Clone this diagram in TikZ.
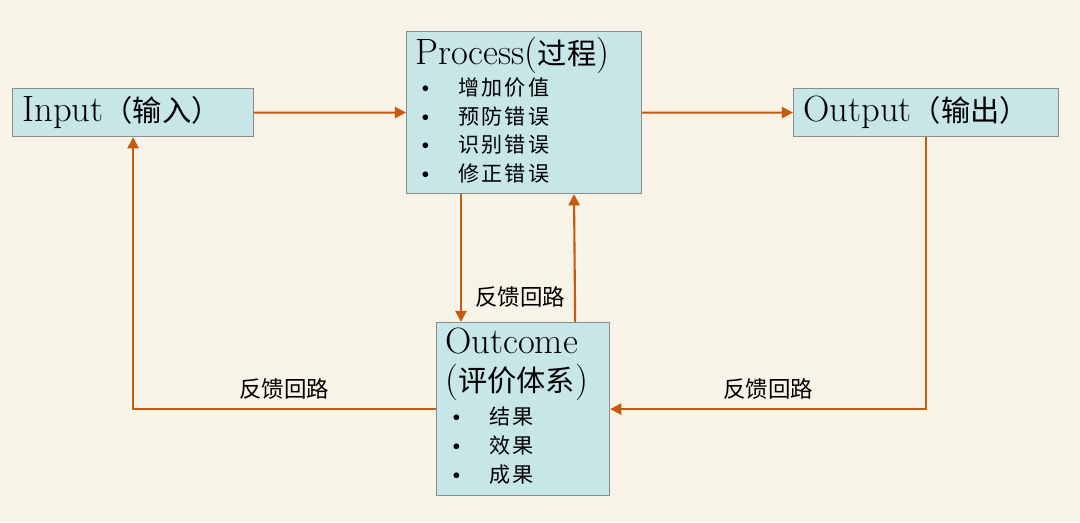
\documentclass[tikz,border=0pt]{standalone}
\usepackage{fontspec}
\newfontfamily\cjk{Noto Sans CJK SC}
\newfontfamily\cjkhead[Scale=0.8]{Noto Sans CJK SC}
\newfontfamily\cjkitem[LetterSpace=10]{Noto Sans CJK SC}
\usepackage{xcolor}
\usetikzlibrary{arrows.meta,positioning,calc}
\definecolor{paper}{HTML}{F7F3E6}
\definecolor{boxfill}{HTML}{C6E6E8}
\definecolor{boxline}{HTML}{8C8C8C}
\definecolor{loopline}{HTML}{C55A11}
\newcommand{\itm}{\makebox[30pt][l]{\rmfamily\fontsize{18}{20}\selectfont\textbullet}}

\begin{document}
\begin{tikzpicture}[
  x=0.025cm, y=-0.025cm,
  box/.style={draw=boxline, fill=boxfill, line width=0.8pt, anchor=north west, inner sep=0pt},
  headbox/.style={box, inner xsep=0.25cm, align=left, font=\fontsize{26}{27}\selectfont},
  head/.style={anchor=west, inner sep=0pt, align=left, font=\fontsize{26}{27}\selectfont},
  items/.style={anchor=west, inner sep=0pt, align=left, font=\cjkitem\fontsize{15}{20.3}\selectfont},
  tag/.style={inner sep=0pt, font=\cjk\fontsize{16}{18}\selectfont},
  arr/.style={-{Triangle[length=8pt,width=8pt]}, draw=loopline, line width=1.5pt}
]
\fill[paper] (0,0) rectangle (1080,522);

% boxes
\node[headbox, text width=5.525cm, minimum height=1.2cm] (input) at (12,88) {Input{\cjkhead（输入）}};
\node[headbox, text width=6.125cm, minimum height=1.2cm] (output) at (793,88) {Output{\cjkhead（输出）}};
\node[box, minimum width=5.875cm, minimum height=4.05cm] (proc) at (406,31) {};
\node[box, minimum width=4.325cm, minimum height=4.325cm] (outcome) at (436,322) {};

% box contents
\node[head] (proctitle) at (415,55) {Process({\cjkhead 过程})};
\node[items] (procitems) at (416,130.5) {\itm 增加价值\\\itm 预防错误\\\itm 识别错误\\\itm 修正错误};
\node[head] (outtitle) at (445,364) {Outcome\\({\cjkhead 评价体系})};
\node[items] (outitems) at (447,445.5) {\itm 结果\\\itm 效果\\\itm 成果};

% flow
\draw[arr] (input) -- (proc);
\draw[arr] (proc) -- (output);
\draw[arr] (output.south) |- (outcome.east);
\draw[arr] (outcome.west) -| (input.south);
\draw[arr] ($(proc.south west)+(55,0)$) -- ($(outcome.north west)+(25,0)$);
\draw[arr] ($(outcome.north east)+(-35,0)$) -- ($(proc.south west)+(168,0)$);

% labels
\node[tag] (fbmid) at (520,297) {反馈回路};
\node[tag] (fbleft) at (284,389) {反馈回路};
\node[tag] (fbright) at (768,389) {反馈回路};
\end{tikzpicture}
\end{document}
